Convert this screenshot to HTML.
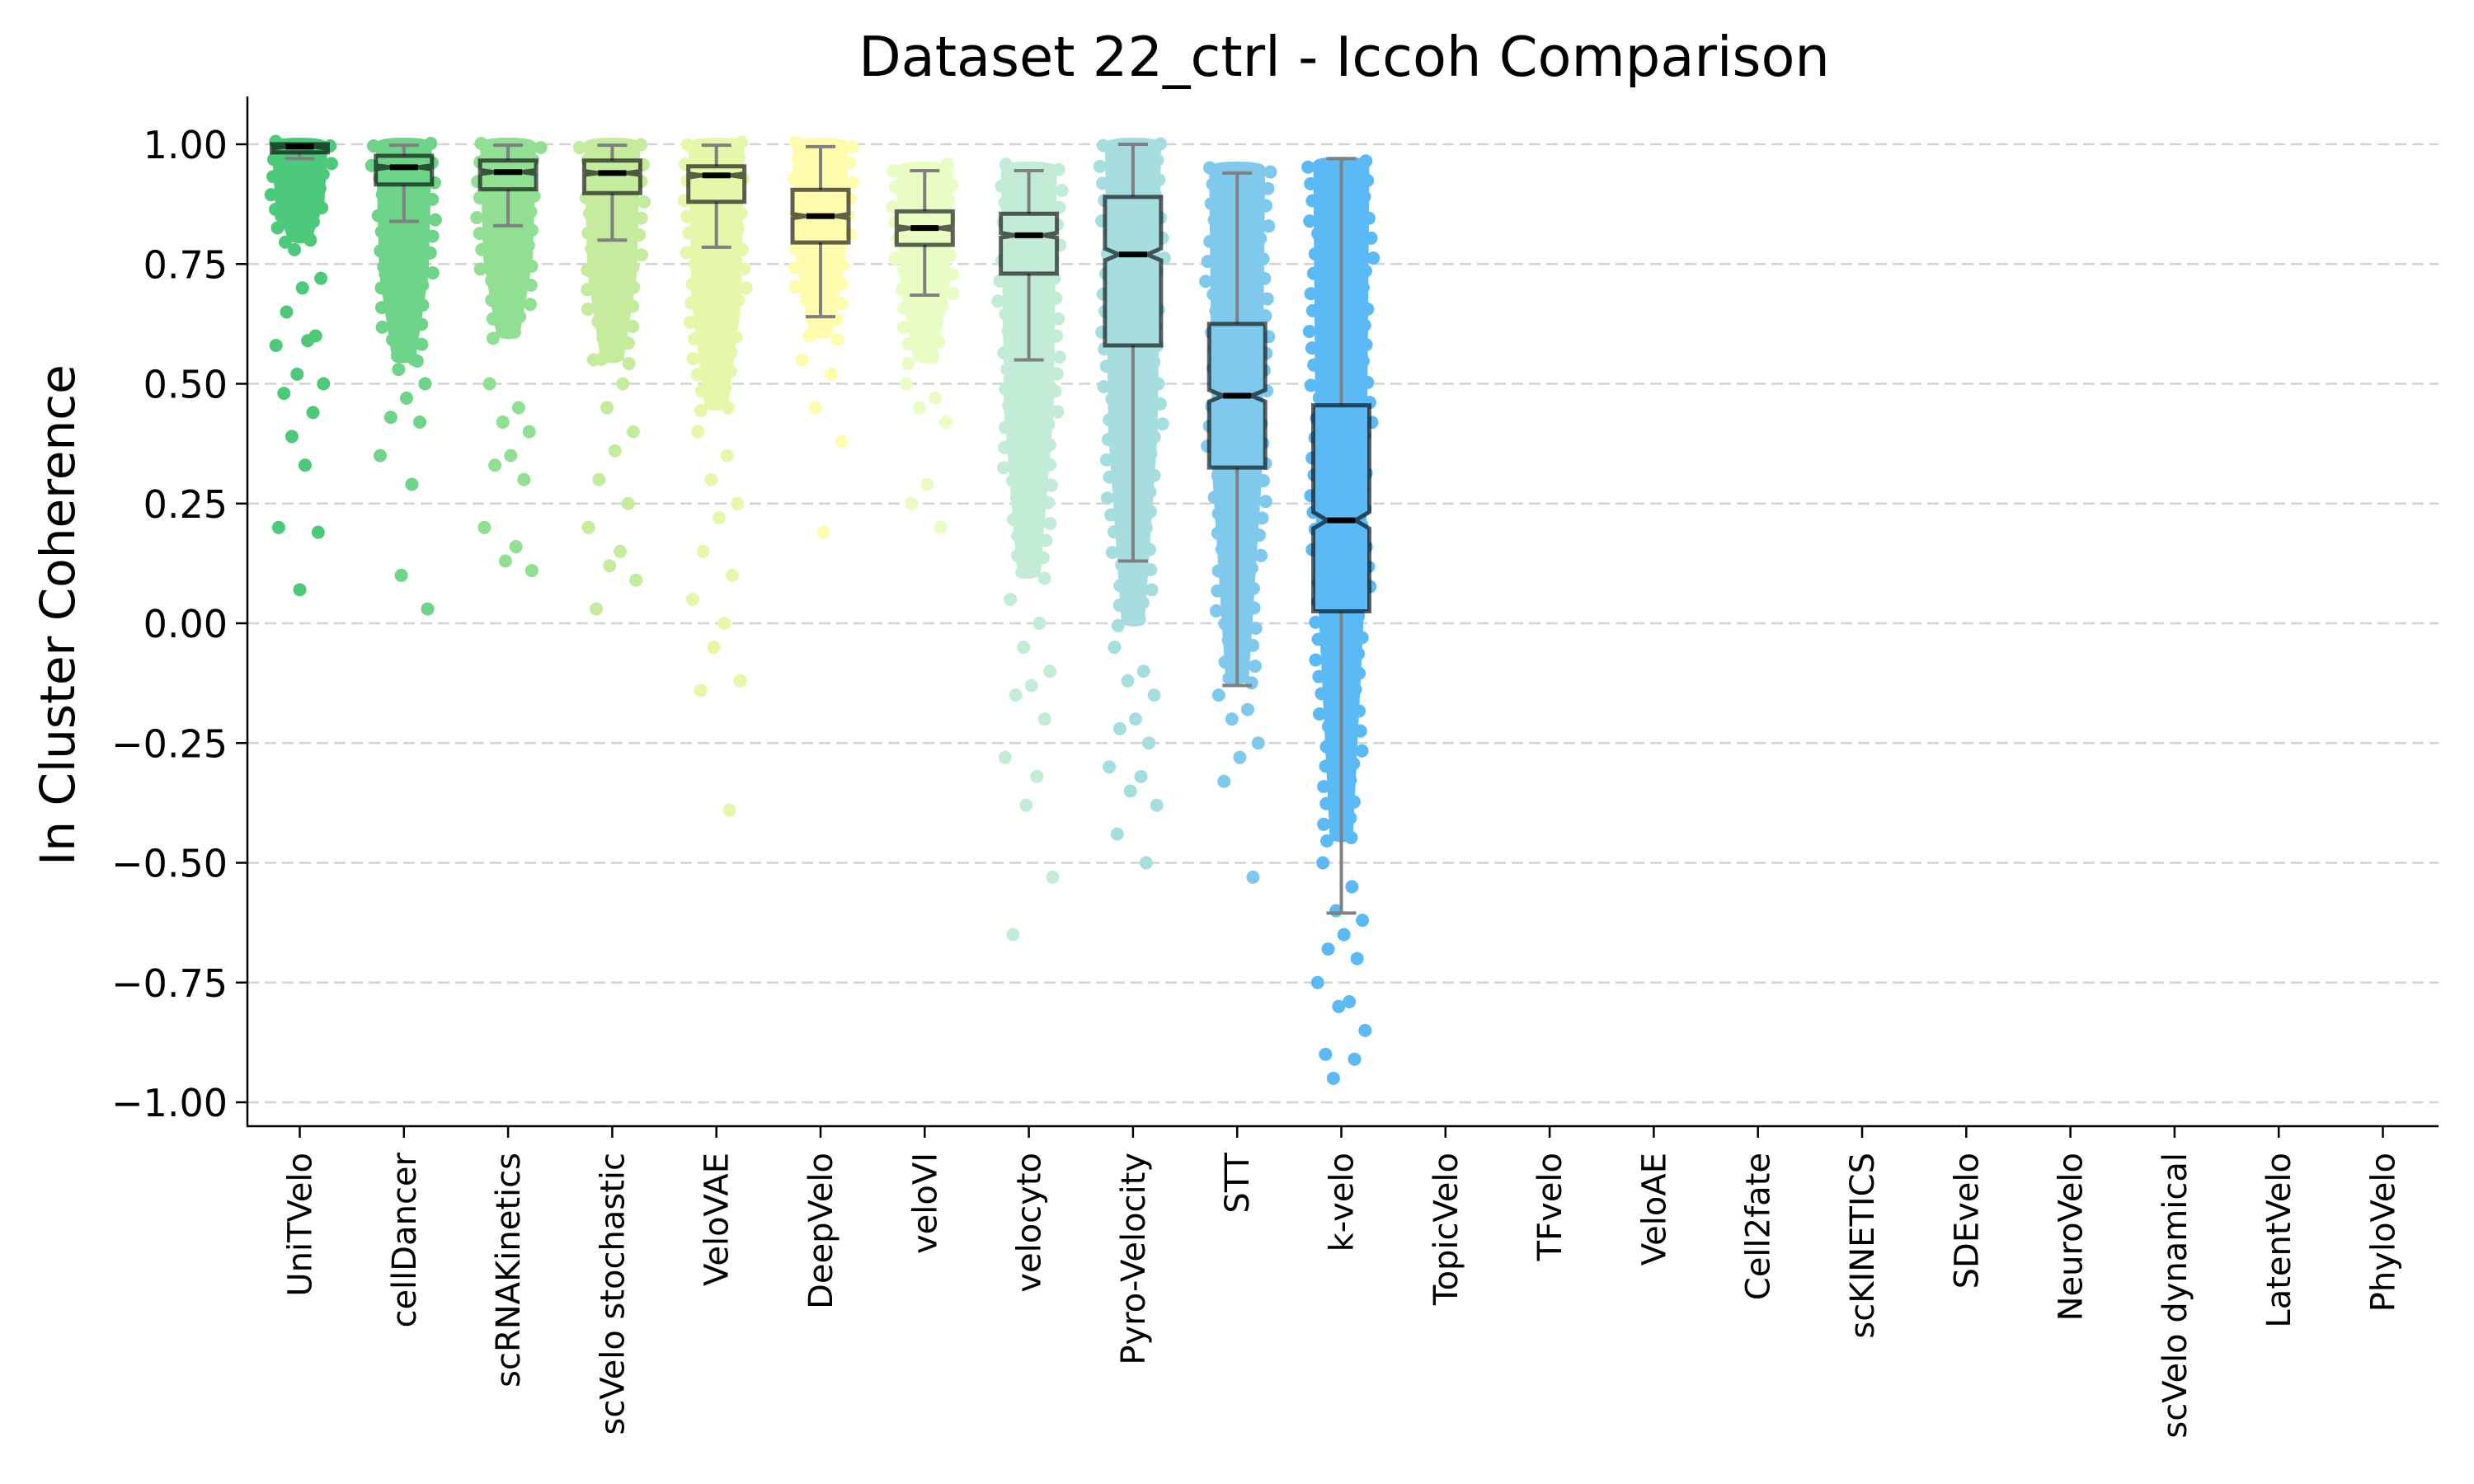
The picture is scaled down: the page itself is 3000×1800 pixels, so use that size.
<!DOCTYPE html>
<html><head><meta charset="utf-8"><title>Dataset 22_ctrl - Iccoh Comparison</title>
<style>html,body{margin:0;padding:0;background:#fff}svg{display:block}text{font-family:"DejaVu Sans","Liberation Sans",sans-serif}</style>
</head><body>
<svg id="chart" width="3000" height="1800" viewBox="0 0 3000 1800" xmlns="http://www.w3.org/2000/svg">
<text x="1630" y="92" font-size="67" text-anchor="middle">Dataset 22_ctrl - Iccoh Comparison</text>
<text transform="translate(90,746) rotate(-90)" font-size="58" text-anchor="middle">In Cluster Coherence</text>
<g id="grid"></g>
<g id="plot"></g>
<g id="axes"></g>
</svg>
<script>
const categories = ["UniTVelo","cellDancer","scRNAKinetics","scVelo stochastic","VeloVAE","DeepVelo","veloVI","velocyto","Pyro-Velocity","STT","k-velo","TopicVelo","TFvelo","VeloAE","Cell2fate","scKINETICS","SDEvelo","NeuroVelo","scVelo dynamical","LatentVelo","PhyloVelo"];
const colors = ["#4cc97b","#6dd48a","#90df93","#c4ec9c","#e5f8aa","#fffcae","#e8fcc4","#c2ecd6","#a6dee0","#7fcaec","#5bbaf5"];
const whiskerLow = [0.970,0.839,0.830,0.800,0.785,0.640,0.685,0.550,0.130,-0.130,-0.605];
const q1 = [0.983,0.916,0.906,0.898,0.880,0.795,0.790,0.730,0.580,0.325,0.025];
const medians = [0.995,0.952,0.942,0.940,0.935,0.850,0.825,0.810,0.770,0.475,0.215];
const q3 = [1.000,0.976,0.966,0.966,0.954,0.905,0.860,0.855,0.890,0.625,0.455];
const whiskerHigh = [1.000,0.998,0.998,0.998,0.998,0.995,0.945,0.945,1.000,0.940,0.970];
const coreHigh = [1.0,1.0,1.0,1.0,1.0,1.0,0.95,0.95,1.0,0.95,0.96];
const coreLow = [0.80,0.55,0.60,0.55,0.45,0.60,0.55,0.10,0.0,-0.12,-0.45];
const tails = [
 [0.85,0.80,0.78,0.72,0.70,0.65,0.60,0.58,0.59,0.52,0.50,0.48,0.44,0.39,0.33,0.20,0.19,0.07],
 [0.73,0.55,0.53,0.50,0.47,0.43,0.42,0.35,0.29,0.10,0.03],
 [0.50,0.45,0.42,0.40,0.35,0.33,0.30,0.20,0.16,0.13,0.11],
 [0.55,0.50,0.45,0.40,0.36,0.30,0.25,0.20,0.15,0.12,0.09,0.03],
 [0.40,0.35,0.30,0.25,0.22,0.15,0.10,0.05,0.00,-0.05,-0.12,-0.14,-0.39],
 [0.55,0.52,0.45,0.38,0.19],
 [0.50,0.47,0.45,0.42,0.29,0.25,0.20],
 [0.05,0.00,-0.05,-0.10,-0.13,-0.15,-0.20,-0.28,-0.32,-0.38,-0.53,-0.65],
 [-0.05,-0.10,-0.12,-0.15,-0.20,-0.22,-0.25,-0.30,-0.32,-0.35,-0.38,-0.44,-0.50],
 [-0.15,-0.18,-0.20,-0.25,-0.28,-0.33,-0.53],
 [-0.50,-0.55,-0.60,-0.62,-0.65,-0.68,-0.70,-0.75,-0.79,-0.80,-0.85,-0.90,-0.91,-0.95]
];
const yTicks = [1.0,0.75,0.5,0.25,0,-0.25,-0.5,-0.75,-1.0];
const yTickLabels = ["1.00","0.75","0.50","0.25","0.00","\u22120.25","\u22120.50","\u22120.75","\u22121.00"];

const NS="http://www.w3.org/2000/svg";
const L=300,R=2957,T=117,B=1366;
const xs=i=>363.5+i*126.3;
const ys=v=>175+(1-v)*581;
function mk(tag,attrs,parent){const e=document.createElementNS(NS,tag);for(const k in attrs)e.setAttribute(k,attrs[k]);parent.appendChild(e);return e;}
const grid=document.getElementById('grid'),plot=document.getElementById('plot'),axes=document.getElementById('axes');

yTicks.forEach((v,i)=>{
 const g=mk('line',{x1:L,x2:R,y1:ys(v),y2:ys(v),stroke:'#d3d3d3','stroke-width':2.5,'stroke-dasharray':'14 7'},grid);
 
 
 const t=mk('line',{x1:L-14,x2:L,y1:ys(v),y2:ys(v),stroke:'#000','stroke-width':2.5},axes);
 
 
 const tx=mk('text',{x:L-24,y:ys(v)+17,'font-size':46,'text-anchor':'end'},axes);
 tx.textContent=yTickLabels[i];
 
 
});

const jit=[-0.35,0.2,-0.1,0.4,0.05,-0.25,0.3,-0.45,0.15,-0.05,0.45,-0.3,0.25,-0.15,0.1,-0.4,0.35,0.0];
const halfBox=34;
colors.forEach((c,i)=>{
 const cx=xs(i);
 const g=mk('g',{},plot);
 
 
 // dense core cloud
 const yt=ys(coreHigh[i]),yb=ys(coreLow[i]);
 const ym2=yt+(yb-yt)*0.6;
 const core=mk('path',{d:`M${cx-34},${yt} Q${cx-34},${yt-8} ${cx},${yt-8} Q${cx+34},${yt-8} ${cx+34},${yt} L${cx+30},${ym2} L${cx+14},${yb} Q${cx},${yb+8} ${cx-14},${yb} L${cx-30},${ym2} Z`,fill:c},g);
 
 
 // jagged cloud edges
 const steps=Math.max(6,Math.round((yb-yt)/22));
 for(let s=0;s<=steps;s++){
  const f=s/steps, yy=yt+(yb-yt)*f;
  const w=f<0.6?34-4*(f/0.6):30-16*((f-0.6)/0.4);
  [-1,1].forEach((sd,k)=>{
   const off=jit[(s*2+k+i)%jit.length];
   const e=mk('circle',{cx:cx+sd*(w+off*14),cy:yy+off*10,r:8,fill:c},g);
   
   
  });
 }
 tails[i].forEach((v,k)=>{
  const p=mk('circle',{cx:cx+jit[k%jit.length]*64,cy:ys(v),r:8,fill:c},g);
  
  
 });
 // whiskers
 const w1=mk('line',{x1:cx,x2:cx,y1:ys(q3[i]),y2:ys(whiskerHigh[i]),stroke:'#808080','stroke-width':4},g);
 
 
 const w2=mk('line',{x1:cx,x2:cx,y1:ys(q1[i]),y2:ys(whiskerLow[i]),stroke:'#808080','stroke-width':4},g);
 
 
 [whiskerHigh[i],whiskerLow[i]].forEach(v=>{
  const cp=mk('line',{x1:cx-18,x2:cx+18,y1:ys(v),y2:ys(v),stroke:'#808080','stroke-width':4},g);
  
  
 });
 // notched box
 const iqr=q3[i]-q1[i];
 const nh=Math.max(iqr*0.04,0.004);
 const yq3=ys(q3[i]),yq1=ys(q1[i]),ym=ys(medians[i]);
 const nu=ys(Math.min(medians[i]+nh,q3[i])),nl=ys(Math.max(medians[i]-nh,q1[i]));
 const hw=halfBox,hn=halfBox/2;
 const box=mk('path',{d:`M${cx-hw},${yq3} L${cx+hw},${yq3} L${cx+hw},${nu} L${cx+hn},${ym} L${cx+hw},${nl} L${cx+hw},${yq1} L${cx-hw},${yq1} L${cx-hw},${nl} L${cx-hn},${ym} L${cx-hw},${nu} Z`,fill:c,stroke:'rgba(0,0,0,0.62)','stroke-width':5,'stroke-linejoin':'miter'},g);
 
 
 const md=mk('line',{x1:cx-hn,x2:cx+hn,y1:ym,y2:ym,stroke:'#000','stroke-width':7},g);
 
 
});

const sl=mk('line',{x1:L,x2:L,y1:T,y2:B,stroke:'#000','stroke-width':2.5},axes);


const sb=mk('line',{x1:L-1,x2:R,y1:B,y2:B,stroke:'#000','stroke-width':2.5},axes);


categories.forEach((n,i)=>{
 const x=xs(i);
 const t=mk('line',{x1:x,x2:x,y1:B,y2:B+14,stroke:'#000','stroke-width':2.5},axes);
 
 
 const tx=mk('text',{transform:`translate(${x+14},${B+32}) rotate(-90)`,'font-size':40,'text-anchor':'end'},axes);
 tx.textContent=n;
 
 
});
</script>
</body></html>
